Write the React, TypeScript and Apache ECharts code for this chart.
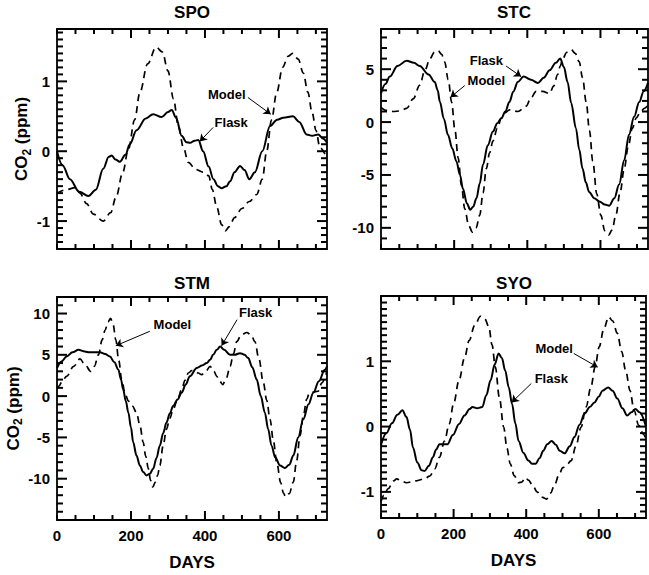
import React, { useEffect, useRef } from 'react';
import * as echarts from 'echarts';

const FONT = '"Liberation Sans", Arial, Helvetica, sans-serif';

// ---- data (day, CO2 ppm) ----
const spoFlask = [[0,0.0],[15,-0.2],[35,-0.4],[60,-0.58],[85,-0.64],[105,-0.55],[125,-0.25],[140,-0.08],[148,-0.06],[158,-0.12],[170,-0.15],[185,-0.05],[197,0.1],[215,0.3],[240,0.47],[260,0.53],[283,0.49],[300,0.56],[310,0.59],[322,0.48],[337,0.22],[350,0.13],[360,0.12],[372,0.15],[382,0.16],[395,0.0],[410,-0.22],[423,-0.4],[435,-0.5],[445,-0.53],[458,-0.5],[468,-0.43],[480,-0.3],[495,-0.21],[507,-0.27],[520,-0.4],[535,-0.3],[555,0.0],[576,0.36],[595,0.45],[612,0.48],[638,0.5],[655,0.42],[675,0.24],[690,0.22],[706,0.24],[720,0.18],[730,0.12]];
const spoModel = [[0,-0.6],[25,-0.55],[50,-0.52],[62,-0.6],[80,-0.75],[98,-0.9],[125,-1.0],[145,-0.88],[160,-0.65],[178,-0.3],[193,0.03],[210,0.45],[224,0.84],[245,1.25],[268,1.49],[285,1.42],[300,1.15],[315,0.75],[328,0.36],[342,0.05],[355,-0.16],[375,-0.26],[395,-0.3],[410,-0.35],[420,-0.55],[432,-0.8],[445,-1.05],[455,-1.14],[466,-1.08],[480,-0.95],[500,-0.82],[520,-0.72],[540,-0.62],[555,-0.4],[567,0.0],[580,0.45],[594,0.84],[610,1.2],[625,1.36],[637,1.4],[652,1.32],[666,1.12],[678,0.85],[690,0.55],[700,0.3],[711,0.05],[730,-0.1]];

const stcFlask = [[0,2.7],[12,3.6],[24,4.3],[45,5.3],[70,5.8],[90,5.6],[106,5.3],[130,4.5],[147,3.8],[155,3.0],[161,1.9],[172,0.3],[183,-1.2],[195,-2.5],[206,-3.7],[216,-5.0],[224,-6.3],[235,-7.7],[244,-8.3],[252,-8.0],[261,-7.2],[270,-5.8],[279,-4.0],[292,-2.2],[306,-0.9],[318,-0.1],[329,0.36],[340,1.0],[351,1.9],[362,2.9],[374,3.8],[390,4.3],[410,4.0],[429,3.7],[445,4.2],[461,4.9],[478,5.6],[490,6.0],[500,5.2],[510,3.8],[520,1.8],[533,-0.6],[542,-2.6],[551,-4.4],[560,-5.7],[569,-6.6],[583,-7.2],[597,-7.5],[612,-7.8],[624,-7.9],[638,-7.2],[651,-5.9],[665,-3.6],[678,-1.2],[692,0.5],[706,1.9],[718,2.9],[730,3.7]];
const stcModel = [[0,1.4],[15,1.1],[33,1.0],[52,1.05],[70,1.3],[88,2.2],[106,3.5],[120,4.9],[134,6.0],[146,6.6],[156,6.75],[166,6.4],[174,5.7],[184,4.0],[193,1.9],[202,-0.7],[211,-3.4],[220,-6.0],[229,-8.2],[240,-9.8],[250,-10.4],[260,-10.0],[270,-8.8],[279,-6.7],[288,-4.4],[297,-2.9],[306,-1.8],[318,-0.6],[329,0.36],[340,0.9],[351,1.15],[374,1.0],[397,1.5],[410,2.3],[424,2.9],[442,2.9],[461,2.7],[472,3.4],[483,4.5],[490,5.3],[497,6.0],[508,6.6],[520,6.85],[531,6.5],[542,5.7],[551,4.2],[561,1.9],[570,-0.8],[579,-3.7],[590,-6.8],[601,-8.8],[612,-10.3],[622,-10.7],[632,-10.2],[642,-8.8],[654,-6.6],[665,-4.4],[676,-2.3],[687,-0.6],[698,0.4],[710,1.0],[720,1.3],[730,1.6]];

const stmFlask = [[0,3.4],[12,4.2],[26,4.8],[42,5.3],[58,5.6],[75,5.4],[89,5.3],[116,5.3],[130,5.1],[143,4.8],[155,4.1],[166,3.2],[173,2.0],[179,0.8],[186,-0.6],[193,-2.0],[200,-3.8],[206,-5.6],[215,-7.2],[224,-8.4],[233,-9.2],[242,-9.6],[251,-9.4],[260,-8.8],[269,-7.5],[278,-6.0],[287,-4.5],[296,-3.2],[305,-2.1],[314,-1.2],[326,-0.4],[337,0.4],[348,1.4],[359,2.4],[378,3.4],[392,3.7],[405,4.0],[414,4.4],[422,5.0],[432,5.6],[441,6.0],[452,5.6],[468,5.0],[480,5.0],[495,5.2],[507,5.0],[517,4.6],[528,3.5],[540,2.0],[551,0.0],[562,-2.0],[571,-4.0],[580,-6.0],[590,-7.4],[603,-8.4],[616,-8.7],[628,-8.3],[639,-7.2],[652,-5.0],[666,-2.8],[680,-1.0],[693,0.4],[708,1.8],[724,3.2],[730,3.6]];
const stmModel = [[0,1.0],[5,1.2],[15,1.9],[26,2.4],[45,3.6],[62,4.5],[76,3.8],[91,3.0],[101,3.6],[112,5.0],[122,6.8],[130,8.0],[138,9.0],[145,9.4],[152,8.6],[159,6.8],[167,4.3],[175,2.0],[184,0.3],[193,-0.6],[204,-1.2],[215,-2.0],[224,-3.5],[233,-5.6],[240,-7.3],[247,-8.8],[253,-10.2],[259,-11.0],[266,-10.4],[272,-9.6],[278,-8.4],[287,-6.0],[296,-4.0],[305,-2.7],[314,-1.6],[326,-0.4],[337,0.8],[346,1.9],[355,2.8],[365,3.1],[373,3.0],[382,2.8],[391,2.6],[402,3.0],[414,3.6],[424,3.0],[432,2.4],[440,1.8],[448,1.4],[458,2.2],[468,3.6],[477,5.1],[486,6.6],[498,7.4],[513,7.7],[525,7.4],[535,6.6],[546,4.5],[558,1.6],[567,-0.5],[576,-2.8],[585,-5.4],[594,-8.0],[605,-10.5],[612,-11.7],[618,-12.2],[628,-11.8],[639,-10.4],[648,-7.8],[657,-4.8],[666,-2.4],[675,-0.4],[682,0.3],[688,0.5],[697,0.5],[706,0.6],[716,1.6],[730,3.0]];

const syoFlask = [[0,-0.28],[15,-0.1],[30,0.05],[45,0.18],[59,0.25],[70,0.15],[80,-0.05],[88,-0.32],[100,-0.55],[112,-0.67],[120,-0.68],[132,-0.6],[143,-0.47],[152,-0.35],[161,-0.27],[172,-0.27],[183,-0.27],[198,-0.13],[215,0.04],[230,0.17],[244,0.27],[252,0.3],[265,0.28],[279,0.3],[290,0.48],[302,0.71],[313,0.95],[324,1.12],[333,1.05],[342,0.86],[352,0.6],[361,0.35],[370,0.05],[379,-0.22],[392,-0.4],[406,-0.52],[416,-0.57],[426,-0.57],[437,-0.48],[447,-0.37],[458,-0.27],[470,-0.22],[482,-0.28],[492,-0.37],[506,-0.41],[520,-0.3],[533,-0.16],[547,0.03],[561,0.2],[575,0.3],[588,0.37],[600,0.46],[610,0.55],[626,0.6],[638,0.55],[651,0.43],[665,0.28],[678,0.17],[690,0.22],[701,0.27],[712,0.22],[730,0.0]];
const syoModel = [[0,-1.15],[8,-1.05],[20,-0.95],[35,-0.83],[43,-0.8],[55,-0.83],[70,-0.86],[97,-0.83],[120,-0.8],[134,-0.76],[148,-0.65],[161,-0.47],[175,-0.22],[188,0.04],[200,0.35],[215,0.71],[230,1.05],[243,1.32],[258,1.55],[274,1.69],[286,1.65],[297,1.53],[306,1.25],[315,0.91],[326,0.45],[338,-0.01],[347,-0.33],[356,-0.57],[367,-0.75],[379,-0.86],[388,-0.85],[397,-0.78],[406,-0.82],[418,-0.9],[430,-1.0],[443,-1.08],[456,-1.11],[467,-1.02],[479,-0.88],[490,-0.74],[501,-0.63],[512,-0.58],[524,-0.52],[537,-0.3],[551,-0.01],[565,0.3],[578,0.6],[590,0.92],[601,1.22],[614,1.5],[627,1.68],[638,1.62],[651,1.43],[663,1.15],[674,0.86],[686,0.55],[697,0.25],[710,0.02],[723,-0.12],[730,-0.2]];

// ---- axes ----
const dayRange = [0, 730];
const dayLabels = [0, 200, 400, 600];
const dayTicks = [0, 50, 100, 150, 200, 250, 300, 350, 400, 450, 500, 550, 600, 650, 700];
const dayMajor = [200, 400, 600];

const spoRange = [-1.4, 1.75];
const stcRange = [-12, 8.8];
const stmRange = [-15, 12];
const syoRange = [-1.4, 2.0];
const spoLabels = [-1, 0, 1];
const stcLabels = [-10, -5, 0, 5];
const stmLabels = [-10, -5, 0, 5, 10];
const syoLabels = [-1, 0, 1];
const spoTicks = [-1.4,-1.3,-1.2,-1.1,-1.0,-0.9,-0.8,-0.7,-0.6,-0.5,-0.4,-0.3,-0.2,-0.1,0,0.1,0.2,0.3,0.4,0.5,0.6,0.7,0.8,0.9,1.0,1.1,1.2,1.3,1.4,1.5,1.6,1.7];
const stcTicks = [-12,-11,-10,-9,-8,-7,-6,-5,-4,-3,-2,-1,0,1,2,3,4,5,6,7,8];
const stmTicks = [-15,-14,-13,-12,-11,-10,-9,-8,-7,-6,-5,-4,-3,-2,-1,0,1,2,3,4,5,6,7,8,9,10,11,12];
const syoTicks = [-1.4,-1.3,-1.2,-1.1,-1.0,-0.9,-0.8,-0.7,-0.6,-0.5,-0.4,-0.3,-0.2,-0.1,0,0.1,0.2,0.3,0.4,0.5,0.6,0.7,0.8,0.9,1.0,1.1,1.2,1.3,1.4,1.5,1.6,1.7,1.8,1.9];

// ---- annotations (data units) ----
const spoNotes = [
  { text: 'Model', at: [459, 0.81], from: [516, 0.77], to: [578, 0.53] },
  { text: 'Flask', at: [471, 0.41], from: [422, 0.34], to: [386, 0.14] },
];
const stcNotes = [
  { text: 'Flask', at: [288, 5.8], from: [342, 5.3], to: [383, 4.3] },
  { text: 'Model', at: [288, 3.9], from: [229, 3.45], to: [190, 2.35] },
];
const stmNotes = [
  { text: 'Model', at: [312, 8.66], from: [251, 7.85], to: [159, 6.1] },
  { text: 'Flask', at: [537, 10.07], from: [487, 9.26], to: [445, 6.1] },
];
const syoNotes = [
  { text: 'Model', at: [477, 1.19], from: [531, 1.12], to: [597, 0.91] },
  { text: 'Flask', at: [469, 0.74], from: [414, 0.66], to: [360, 0.37] },
];

const layout = [
  { left: 57, top: 29, width: 270, height: 220, tx: 192, ty: 12 },
  { left: 381, top: 29, width: 267, height: 220, tx: 514, ty: 12 },
  { left: 57, top: 297, width: 270, height: 223, tx: 192, ty: 283 },
  { left: 381, top: 296, width: 267, height: 222, tx: 514, ty: 283 },
];

const panels = [
  { title: 'SPO', flask: spoFlask, model: spoModel, range: spoRange, minor: 0.1, ticks: spoTicks, labels: spoLabels, notes: spoNotes, showX: false, showYName: true },
  { title: 'STC', flask: stcFlask, model: stcModel, range: stcRange, minor: 1, ticks: stcTicks, labels: stcLabels, notes: stcNotes, showX: false, showYName: false },
  { title: 'STM', flask: stmFlask, model: stmModel, range: stmRange, minor: 1, ticks: stmTicks, labels: stmLabels, notes: stmNotes, showX: true, showYName: true },
  { title: 'SYO', flask: syoFlask, model: syoModel, range: syoRange, minor: 0.1, ticks: syoTicks, labels: syoLabels, notes: syoNotes, showX: true, showYName: false },
];

const near = (list: number[], v: number) => list.some((l) => Math.abs(l - v) < 1e-6);

function tickSeries(idx: number, dir: 'x' | 'y', values: number[], majors: number[], range: number[], minorLen: number, majorLen: number) {
  return {
    type: 'custom', xAxisIndex: idx, yAxisIndex: idx, silent: true, clip: false, z: 10,
    data: values.map((v) => (dir === 'x' ? [v, range[0]] : [dayRange[0], v])),
    renderItem: (params: any, api: any) => {
      const cs = params.coordSys;
      const style = { stroke: '#000', lineWidth: 2, fill: null };
      if (dir === 'x') {
        const v = api.value(0);
        const L = near(majors, v) ? majorLen : minorLen;
        const px = api.coord([v, range[0]])[0];
        return {
          type: 'group',
          children: [
            { type: 'line', shape: { x1: px, y1: cs.y, x2: px, y2: cs.y + L }, style },
            { type: 'line', shape: { x1: px, y1: cs.y + cs.height, x2: px, y2: cs.y + cs.height - L }, style },
          ],
        };
      }
      const v = api.value(1);
      const L = near(majors, v) ? majorLen : minorLen;
      const py = api.coord([dayRange[0], v])[1];
      return {
        type: 'group',
        children: [
          { type: 'line', shape: { x1: cs.x, y1: py, x2: cs.x + L, y2: py }, style },
          { type: 'line', shape: { x1: cs.x + cs.width, y1: py, x2: cs.x + cs.width - L, y2: py }, style },
        ],
      };
    },
  };
}

function buildOption() {
  const labelStyle = { color: '#000', fontFamily: FONT, fontWeight: 'bold' as const, fontSize: 15 };
  const grid: any[] = [];
  const xAxis: any[] = [];
  const yAxis: any[] = [];
  const series: any[] = [];
  const graphic: any[] = [];

  panels.forEach((p, i) => {
    const g = layout[i];
    grid.push({ left: g.left, top: g.top, width: g.width, height: g.height, show: true, borderColor: '#000', borderWidth: 1.8, backgroundColor: 'transparent' });
    graphic.push({ type: 'text', x: g.tx, y: g.ty, style: { text: p.title, font: `bold 17px ${FONT}`, fill: '#000', textAlign: 'center', textVerticalAlign: 'middle' } });

    xAxis.push({
      type: 'value', gridIndex: i, min: dayRange[0], max: dayRange[1], interval: 50, position: 'bottom',
      axisLine: { show: false, onZero: false }, splitLine: { show: false }, axisTick: { show: false },
      axisLabel: {
        show: p.showX, margin: 8, ...labelStyle,
        formatter: (v: number) => (dayLabels.includes(Math.round(v)) ? String(Math.round(v)) : ''),
      },
      name: p.showX ? 'DAYS' : '', nameLocation: 'middle', nameGap: 34,
      nameTextStyle: { color: '#000', fontFamily: FONT, fontWeight: 'bold', fontSize: 17 },
    });
    const labs = p.labels;
    yAxis.push({
      type: 'value', gridIndex: i, min: p.range[0], max: p.range[1], interval: p.minor, position: 'left',
      axisLine: { show: false, onZero: false }, splitLine: { show: false }, axisTick: { show: false },
      axisLabel: {
        show: true, margin: 7, ...labelStyle,
        formatter: (v: number) => {
          const m = labs.find((l) => Math.abs(l - v) < 1e-6);
          return m === undefined ? '' : String(m);
        },
      },
      name: p.showYName ? '{a|CO}{s|2}{a| (ppm)}' : '', nameLocation: 'middle', nameRotate: 90, nameGap: 24,
      nameTextStyle: {
        rich: {
          a: { fontFamily: FONT, fontWeight: 'bold', fontSize: 17, color: '#000', lineHeight: 22, verticalAlign: 'middle' },
          s: { fontFamily: FONT, fontWeight: 'bold', fontSize: 12, color: '#000', lineHeight: 22, verticalAlign: 'bottom' },
        },
      },
    });

    series.push(tickSeries(i, 'x', dayTicks, dayMajor, p.range, 5, 9));
    series.push(tickSeries(i, 'y', p.ticks, labs, p.range, 6, 10));

    series.push({
      type: 'line', name: p.title + ' Flask', xAxisIndex: i, yAxisIndex: i, data: p.flask,
      smooth: 0.35, smoothMonotone: 'x', showSymbol: false, symbol: 'none', silent: true,
      lineStyle: { color: '#000', width: 2, type: 'solid' },
      markLine: {
        silent: true, symbol: ['none', 'arrow'], symbolSize: 7, animation: false,
        label: { show: false },
        lineStyle: { color: '#000', width: 1, type: 'solid' },
        data: p.notes.map((n) => [{ coord: n.from }, { coord: n.to }]),
      },
      markPoint: {
        silent: true, symbol: 'rect', symbolSize: 1, animation: false,
        itemStyle: { color: 'rgba(0,0,0,0)' },
        label: { show: true, position: 'inside', formatter: '{b}', color: '#000', fontFamily: FONT, fontWeight: 'bold', fontSize: 13 },
        data: p.notes.map((n) => ({ coord: n.at, name: n.text })),
      },
    });
    series.push({
      type: 'line', name: p.title + ' Model', xAxisIndex: i, yAxisIndex: i, data: p.model,
      smooth: 0.35, smoothMonotone: 'x', showSymbol: false, symbol: 'none', silent: true,
      lineStyle: { color: '#000', width: 1.7, type: [7, 5] },
    });
  });

  return { animation: false, backgroundColor: '#fff', grid, xAxis, yAxis, series, graphic };
}

export default function App() {
  const ref = useRef<HTMLDivElement>(null);
  useEffect(() => {
    const chart = echarts.init(ref.current!, null, { renderer: 'svg' });
    chart.setOption(buildOption() as any);
    return () => chart.dispose();
  }, []);
  return <div ref={ref} style={{ position: 'absolute', left: 0, top: 0, width: 649, height: 575 }} />;
}
